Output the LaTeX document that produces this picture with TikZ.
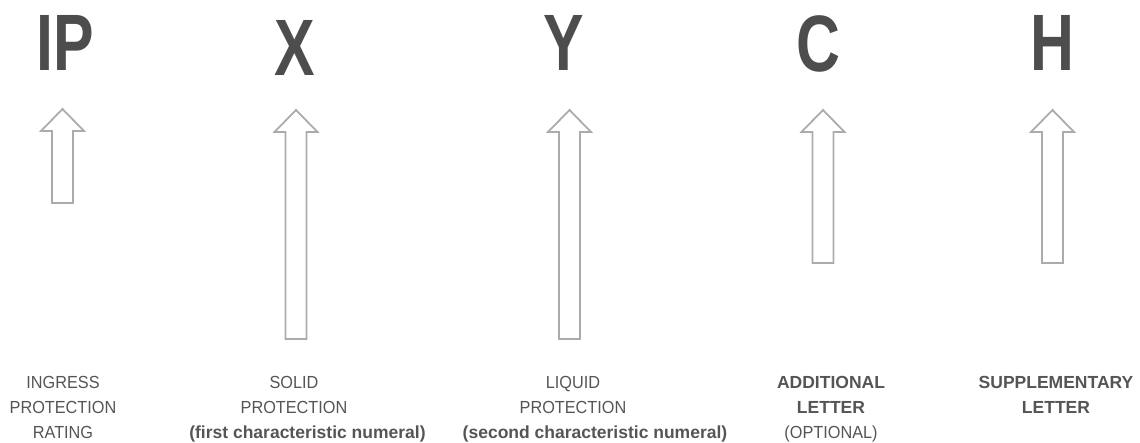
\documentclass[tikz,border=0pt]{standalone}
\usepackage{fontspec}
\setmainfont{Liberation Sans}[FakeStretch=0.93,BoldFeatures={FakeStretch=1.0}]
\newfontfamily\codefont{Liberation Sans}[FakeStretch=0.76]
\usetikzlibrary{calc}
\definecolor{lettergray}{HTML}{4D4D4D}
\definecolor{labelgray}{HTML}{555555}
\definecolor{arrowgray}{HTML}{A9ACAF}
\tikzset{
  code/.style={
    text=lettergray,
    font=\codefont\fontsize{80}{80}\selectfont\bfseries,
    inner sep=0pt,
    anchor=base
  },
  caption/.style={
    text=labelgray,
    font=\fontsize{17.5}{25}\selectfont,
    align=center,
    inner sep=0pt,
    anchor=base
  },
  hollow/.style={
    draw=arrowgray,
    line width=1.8pt,
    line join=miter,
    to path={
      ($(\tikztostart)+(-10.5,0)$) -- ($(\tikztotarget)+(-10.5,22)$)
      -- ($(\tikztotarget)+(-21.5,22)$) -- (\tikztotarget)
      -- ($(\tikztotarget)+(21.5,22)$) -- ($(\tikztotarget)+(10.5,22)$)
      -- ($(\tikztostart)+(10.5,0)$) -- cycle
    }
  }
}
\begin{document}
\begin{tikzpicture}[x=1pt,y=-1pt]
  \useasboundingbox (0,0) rectangle (1140,442);

  % Code letters along the top.
  \node[code] (ip) at (65,70) {IP};
  \node[code] (xx) at (295,75) {X};
  \node[code] (yy) at (564,70) {Y};
  \node[code] (cc) at (818,71) {C};
  \node[code] (hh) at (1052,70) {H};

  % Captions under the arrows (anchored on the last line).
  \node[caption] (ingress) at (63,438.5)
    {INGRESS\\PROTECTION\\RATING};
  \node[caption] (solid) at (294,413.5)
    {SOLID\\PROTECTION};
  \node[caption] (solidnote) at (307.5,438.5)
    {\textbf{(first characteristic numeral)}};
  \node[caption] (liquid) at (573,413.5)
    {LIQUID\\PROTECTION};
  \node[caption] (liquidnote) at (595,438.5)
    {\textbf{(second characteristic numeral)}};
  \node[caption] (additional) at (831,438.5)
    {\textbf{ADDITIONAL}\\\textbf{LETTER}\\(OPTIONAL)};
  \node[caption] (supplement) at (1056,413.5)
    {\textbf{SUPPLEMENTARY}\\\textbf{LETTER}};

  % Tails and tips of the block arrows.
  \coordinate (iptail) at (62.5,203);
  \coordinate (iptip) at (62.5,109);
  \coordinate (xxtail) at (296,339);
  \coordinate (xxtip) at (296,110);
  \coordinate (yytail) at (569.5,339);
  \coordinate (yytip) at (569.5,110);
  \coordinate (cctail) at (823,263);
  \coordinate (cctip) at (823,110);
  \coordinate (hhtail) at (1052.5,263);
  \coordinate (hhtip) at (1052.5,110);

  \foreach \k in {ip,xx,yy,cc,hh}
    \draw[hollow] (\k tail) to (\k tip);

\end{tikzpicture}
\end{document}
